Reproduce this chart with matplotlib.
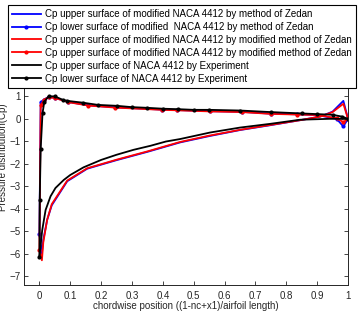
import matplotlib
matplotlib.use('Agg')
import matplotlib.pyplot as plt

plt.rcParams['font.family'] = ['Liberation Sans', 'DejaVu Sans']

# Zedan method, modified NACA 4412
zedan_up_x = [0, 0.008, 0.0125, 0.025, 0.04, 0.09, 0.155, 0.25, 0.35, 0.456, 0.55, 0.65, 0.75, 0.845, 0.91, 0.95, 0.985, 1.0]
zedan_up_cp = [-5.15, -6.0, -5.4, -4.5, -3.85, -2.78, -2.22, -1.84, -1.47, -1.05, -0.77, -0.5, -0.28, -0.06, 0.1, 0.32, 0.8, 0.0]
zedan_lo_x = [0, 0.004, 0.015, 0.03, 0.052, 0.094, 0.159, 0.246, 0.397, 0.446, 0.553, 0.656, 0.75, 0.836, 0.9, 0.963, 0.985, 1.0]
zedan_lo_cp = [-5.15, 0.73, 0.86, 0.98, 0.93, 0.75, 0.6, 0.51, 0.41, 0.39, 0.34, 0.31, 0.23, 0.2, 0.17, 0.0, -0.34, 0.0]

# modified method of Zedan
mod_up_x = [0, 0.008, 0.0125, 0.025, 0.04, 0.09, 0.155, 0.25, 0.35, 0.456, 0.55, 0.65, 0.75, 0.845, 0.91, 0.95, 0.985, 1.0]
mod_up_cp = [-5.85, -6.3, -5.5, -4.5, -3.8, -2.75, -2.2, -1.82, -1.45, -1.03, -0.75, -0.49, -0.27, -0.06, 0.1, 0.3, 0.67, 0.0]
mod_lo_x = [0, 0.004, 0.015, 0.03, 0.052, 0.094, 0.159, 0.246, 0.397, 0.446, 0.553, 0.656, 0.75, 0.836, 0.9, 0.963, 0.985, 1.0]
mod_lo_cp = [-5.85, 0.6, 0.85, 0.97, 0.92, 0.74, 0.59, 0.5, 0.4, 0.38, 0.33, 0.3, 0.22, 0.19, 0.17, 0.03, -0.15, 0.0]

# experiment, NACA 4412
exp_up_x = [0, 0.009, 0.02, 0.036, 0.052, 0.079, 0.1, 0.143, 0.2, 0.25, 0.305, 0.36, 0.41, 0.456, 0.553, 0.65, 0.75, 0.845, 0.94, 1.0]
exp_up_cp = [-6.15, -4.96, -4.06, -3.45, -3.08, -2.72, -2.5, -2.16, -1.83, -1.6, -1.38, -1.2, -1.01, -0.9, -0.61, -0.39, -0.22, -0.04, 0.0, 0.0]
exp_lo_x = [0, 0.001, 0.004, 0.01, 0.016, 0.03, 0.05, 0.075, 0.09, 0.14, 0.19, 0.25, 0.3, 0.35, 0.4, 0.45, 0.5, 0.55, 0.65, 0.75, 0.85, 0.9, 0.95, 0.98, 1.0]
exp_lo_cp = [-6.15, -3.6, -1.35, 0.25, 0.77, 1.0, 1.0, 0.85, 0.8, 0.72, 0.62, 0.58, 0.52, 0.49, 0.45, 0.43, 0.4, 0.4, 0.37, 0.3, 0.24, 0.21, 0.18, 0.1, 0.0]

labels = ['Cp upper surface of modified NACA 4412 by method of Zedan',
          'Cp lower surface of modified  NACA 4412 by method of Zedan',
          'Cp upper surface of modified NACA 4412 by modified method of Zedan',
          'Cp upper surface of modified NACA 4412 by modified method of Zedan',
          'Cp upper surface of NACA 4412 by Experiment',
          'Cp lower surface of NACA 4412 by Experiment']

W, H = 360, 311
fig = plt.figure(figsize=(W / 100, H / 100), dpi=100)
ax = fig.add_axes([24 / W, 1 - 285 / H, 324 / W, 256 / H])

lw = 1.3
ax.plot(zedan_up_x, zedan_up_cp, '-', color='blue', lw=lw, label=labels[0])
ax.plot(zedan_lo_x, zedan_lo_cp, '.-', color='blue', lw=lw, ms=4, label=labels[1])
ax.plot(mod_up_x, mod_up_cp, '-', color='red', lw=lw, label=labels[2])
ax.plot(mod_lo_x, mod_lo_cp, '.-', color='red', lw=lw, ms=4, label=labels[3])
ax.plot(exp_up_x, exp_up_cp, '-', color='black', lw=lw, label=labels[4])
ax.plot(exp_lo_x, exp_lo_cp, '.-', color='black', lw=lw, ms=4, label=labels[5])

ax.set_xlim(-0.05, 1.0)
ax.set_ylim(-7.4, 4.0)
ax.set_xticks([0, 0.1, 0.2, 0.3, 0.4, 0.5, 0.6, 0.7, 0.8, 0.9, 1])
ax.set_xticklabels(['0', '0.1', '0.2', '0.3', '0.4', '0.5', '0.6', '0.7', '0.8', '0.9', '1'])
ax.set_yticks(range(-7, 4))
ax.tick_params(direction='in', length=3, width=0.6, top=True, right=True,
               labelsize=7, colors='#262626')
ax.tick_params(axis='y', pad=2.5)
ax.tick_params(axis='x', pad=4)
for s in ax.spines.values():
    s.set_linewidth(0.7)
    s.set_color('#262626')

ax.set_xlabel('chordwise position ((1-nc+x1)/airfoil length)', fontsize=7, color='#262626')
ax.xaxis.set_label_coords(0.5, -0.064)
ax.set_ylabel('Pressure distribution(Cp)', fontsize=7, color='#262626')
ax.yaxis.set_label_coords(-0.05, 0.5)

leg = ax.legend(loc='lower left', bbox_to_anchor=(8 / W, 1 - 88 / H, 348 / W, 0.1),
                bbox_transform=fig.transFigure, mode='expand', borderaxespad=0,
                fontsize=7, fancybox=False, framealpha=1, edgecolor='black',
                handlelength=2.9, handletextpad=0.45, labelspacing=0.3, borderpad=0.45)
leg.get_frame().set_linewidth(0.8)
leg.set_zorder(10)

fig.savefig('out.png', dpi=100)
